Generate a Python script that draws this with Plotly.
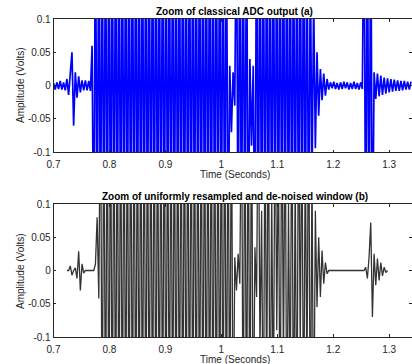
import numpy as np
import plotly.graph_objects as go

# sampling grid of the zoomed window (seconds)
t_start = 0.7
t_step = 0.003
n_samples = 214

# panel (a): classical ADC output, amplitude in millivolts
adc_mv = [
    4, -6, 5, -5, 7, -6, 5, -7,
    10, -14, 18, 50, -60, 20, -18, 14, -10,
    8, -7, 8, -7, 7, -8, 60,
    -300, 300, -300, 300, -300, 300, -300, 300, -300, 300,
    -300, 300, -300, 300, -300, 300, -300, 300, -300, 300,
    -300, 300, -300, 300, -300, 300, -300, 300, -300, 300,
    -300, 300, -300, 300, -300, 300, -300, 300, -300, 300,
    -300, 300, -300, 300, -300, 300, -300, 300, -300, 300,
    -300, 300, -300, 300, -300, 300, -300, 300, -300, 300,
    -300, 300, -300, 300, -300, 300, -300, 300, -300, 300,
    -300, 300, -300, 300, -300, 300, -300, 300, -300, 300,
    -300,
    30, -70, 20, -30,
    300, -300, 300, -300, 300, -300, 300, -300,
    40, -90, 30,
    -300, 300, -300, 300, -300, 300, -300, 300, -300, 300,
    -300, 300, -300, 300, -300, 300, -300, 300, -300, 300,
    -300, 300, -300, 300, -300, 300, -300, 300, -300, 300,
    -300, 300, -300,
    200, -150, 130, -94, 50, -45,
    25, -22, 18, -15, 10,
    -6, 5, -4, 6, -5, 4, -6, 5, -5, 6, -4, 5, -6, 4, -5, 6, -5, 4, -6, 5, -5,
    300, -300, 300, -300, 300, -300,
    20, -20, 18, -16, 15, -14, 12, -12, 11, -10, 10, -9, 9, -8, 8, -8, 7, -7, 7, -6, 6, -6, 6,
]

# panel (b): uniformly resampled and de-noised window, millivolts (None = no sample)
den_mv = [
    None, None, None, None, None, None, None, None,
    0, 0, 7, -7, 0, 4, -12, 29, -30, 10, -4,
    0, 0, 0, 0, 0, 0,
    10, 80, -42,
    300, -300, 300, -300, 300, -300, 300, -300, 300, -300,
    300, -300, 300, -300, 300, -300, 300, -300, 300, -300,
    300, -300, 300, -300, 300, -300, 300, -300, 300, -300,
    300, -300, 300, -300, 300, -300, 300, -300, 300, -300,
    300, -300, 300, -300, 300, -300, 300, -300, 300, -300,
    300, -300, 300, -300, 300, -300, 300, -300, 300, -300,
    300, -300, 300, -300, 300, -300, 300, -300, 300, -300,
    300, -300, 300, -300, 300, -300, 300, -300, 300, -300,
    20, -30, 25, -20,
    300, -300, 300, -300, 300, -300, 300, -300,
    35, -40,
    300, -120, 90, -300, 250, -200, 300, -300, 120, -250,
    300, -90, 200, -300, 300, -150, 280, -300, 100, -220,
    300, -300, 150, -300, 300, -120, 250, -300, 200, -180,
    300, -300, 160, -300,
    90, -55, 50, -40, 30, -20, 12, -5,
    0, 0, 0, 0, 0, 0, 0, 0, 0, 0, 0, 0, 0, 0, 0, 0, 0, 0, 0, 0, 0, 0,
    5, -12, 20, 72, -70, 25, -22, 18, -15, 12, -8, 5, -3, 0,
    None, None, None, None, None, None, None, None, None, None, None, None, None, None,
]

x_ticks = [0.7, 0.8, 0.9, 1.0, 1.1, 1.2, 1.3]
x_tick_labels = ["0.7", "0.8", "0.9", "1", "1.1", "1.2", "1.3"]
y_ticks = [-0.1, -0.05, 0, 0.05, 0.1]
y_tick_labels = ["-0.1", "-0.05", "0", "0.05", "0.1"]

titles = ["Zoom of classical ADC output (a)",
          "Zoom of uniformly resampled and de-noised window (b)"]

assert len(adc_mv) == n_samples, len(adc_mv)
assert len(den_mv) == n_samples, len(den_mv)

t = t_start + t_step * np.arange(n_samples)
adc_v = [v / 1000.0 for v in adc_mv]
den_v = [None if v is None else v / 1000.0 for v in den_mv]

W, H = 412, 364
x_left = 53.5 / W
top_dom = [1 - 152.3 / H, 1 - 19 / H]
bot_dom = [1 - 337 / H, 1 - 204 / H]
x_range = [0.7, 0.7 + (W - 53.5) / 559.5]

fig = go.Figure()
fig.add_trace(go.Scatter(x=t, y=adc_v, mode="lines", xaxis="x", yaxis="y",
                         line=dict(color="#0000ff", width=1.7), showlegend=False,
                         hoverinfo="skip"))
fig.add_trace(go.Scatter(x=t, y=den_v, mode="lines", xaxis="x2", yaxis="y2",
                         line=dict(color="#333333", width=1.3), showlegend=False,
                         hoverinfo="skip", connectgaps=False))

font = "Liberation Sans, Arial, Helvetica, sans-serif"
axcol = "#262626"
common_x = dict(range=x_range, tickvals=x_ticks, ticktext=x_tick_labels,
                ticks="inside", ticklen=3, tickcolor=axcol, tickwidth=0.6,
                showline=True, linecolor=axcol, linewidth=0.6, mirror="ticks",
                showgrid=False, zeroline=False, automargin=False,
                ticklabelstandoff=3,
                tickfont=dict(family=font, size=10, color=axcol))
common_y = dict(range=[-0.1, 0.1], tickvals=y_ticks, ticktext=y_tick_labels,
                ticks="inside", ticklen=3, tickcolor=axcol, tickwidth=0.6,
                showline=True, linecolor=axcol, linewidth=0.6, mirror="ticks",
                showgrid=False, zeroline=False, automargin=False,
                tickfont=dict(family=font, size=10, color=axcol))

fig.update_layout(
    width=W, height=H,
    margin=dict(l=0, r=0, t=0, b=0),
    paper_bgcolor="white", plot_bgcolor="white",
    xaxis=dict(domain=[x_left, 1], anchor="y", **common_x),
    yaxis=dict(domain=top_dom, anchor="x", **common_y),
    xaxis2=dict(domain=[x_left, 1], anchor="y2", **common_x),
    yaxis2=dict(domain=bot_dom, anchor="x2", **common_y),
)

title_x = 1.024
anns = []
for ypx, txt in [(11.5, titles[0]), (196, titles[1])]:
    anns.append(dict(text="<b>%s</b>" % txt, x=title_x, xref="x", y=1 - ypx / H, yref="paper",
                     showarrow=False, xanchor="center", yanchor="middle",
                     font=dict(family=font, size=10, color="#000000")))
for ypx in [174, 359]:
    anns.append(dict(text="Time (Seconds)", x=title_x, xref="x", y=1 - ypx / H, yref="paper",
                     showarrow=False, xanchor="center", yanchor="middle",
                     font=dict(family=font, size=10, color=axcol)))
for ypx in [85, 271]:
    anns.append(dict(text="Amplitude (Volts)", x=20 / W, xref="paper", y=1 - ypx / H, yref="paper",
                     showarrow=False, xanchor="center", yanchor="middle", textangle=-90,
                     font=dict(family=font, size=10, color=axcol)))
fig.update_layout(annotations=anns)

fig.write_html("out.html", config={"displayModeBar": False},
               post_script="document.body.style.margin='0';document.body.style.overflow='hidden';")
